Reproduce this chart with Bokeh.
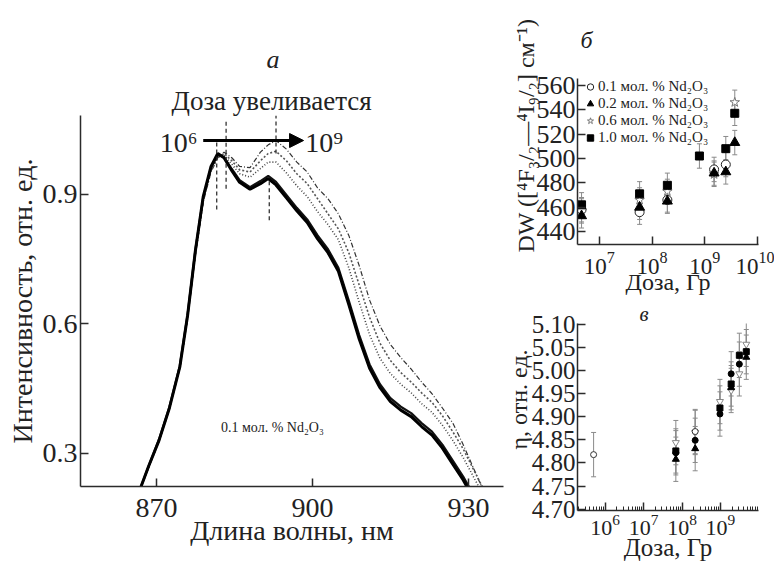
import math
from bokeh.plotting import figure
from bokeh.layouts import row, column
from bokeh.models import (Range1d, FixedTicker, Label, Arrow, NormalHead, Whisker, TeeHead, Title,
                          ColumnDataSource, Legend, LegendItem, PrintfTickFormatter)
from bokeh.embed import file_html
from bokeh.resources import INLINE

FONT = "Liberation Serif"
AX = "#2b2b2b"
TXT = "#222"

# ---------------- panel a: luminescence spectra ----------------
wavelength = [866.8, 868.5, 870.5, 872.5, 874.5, 876.0, 877.5, 879.0, 880.5, 881.8,
              883.0, 884.5, 886.0, 888.0, 890.0, 891.5, 893.0, 895.0, 897.0, 899.0,
              901.0, 903.0, 905.0, 907.0, 909.0, 911.0, 913.0, 915.0, 917.0, 919.0,
              921.0, 923.0, 925.0, 927.0, 929.0, 931.0, 933.0]
spec_1 = [0.215, 0.27, 0.33, 0.405, 0.50, 0.62, 0.77, 0.895, 0.965, 0.995,
          0.985, 0.955, 0.928, 0.912, 0.925, 0.937, 0.922, 0.892, 0.862, 0.835,
          0.797, 0.765, 0.722, 0.645, 0.565, 0.497, 0.452, 0.420, 0.400, 0.385,
          0.362, 0.342, 0.312, 0.275, 0.238, 0.195, 0.160]
spec_2 = [0.215, 0.27, 0.332, 0.407, 0.503, 0.622, 0.772, 0.893, 0.962, 0.992,
          0.986, 0.959, 0.933, 0.917, 0.931, 0.943, 0.929, 0.899, 0.869, 0.842,
          0.805, 0.773, 0.730, 0.654, 0.574, 0.506, 0.460, 0.428, 0.408, 0.393,
          0.370, 0.350, 0.320, 0.283, 0.246, 0.203, 0.168]
spec_3 = [0.215, 0.268, 0.33, 0.405, 0.50, 0.618, 0.765, 0.888, 0.958, 0.990,
          0.990, 0.970, 0.948, 0.940, 0.960, 0.975, 0.975, 0.950, 0.920, 0.895,
          0.860, 0.830, 0.795, 0.730, 0.650, 0.575, 0.520, 0.485, 0.460, 0.440,
          0.415, 0.395, 0.365, 0.330, 0.290, 0.245, 0.200]
spec_4 = [0.215, 0.268, 0.328, 0.403, 0.498, 0.615, 0.762, 0.885, 0.955, 0.985,
          0.995, 0.978, 0.957, 0.952, 0.978, 0.995, 1.000, 0.978, 0.948, 0.925,
          0.890, 0.855, 0.820, 0.765, 0.690, 0.615, 0.555, 0.515, 0.487, 0.465,
          0.440, 0.418, 0.387, 0.350, 0.310, 0.262, 0.215]
spec_5 = [0.215, 0.267, 0.327, 0.402, 0.496, 0.612, 0.758, 0.882, 0.952, 0.985,
          0.998, 0.985, 0.965, 0.962, 0.998, 1.015, 1.025, 1.005, 0.975, 0.952,
          0.915, 0.890, 0.855, 0.805, 0.735, 0.655, 0.595, 0.552, 0.522, 0.495,
          0.465, 0.438, 0.405, 0.370, 0.320, 0.265, 0.210]
peak_marks_wl = [881.6, 883.4, 891.7, 893.0]
peak_marks_top = [1.025, 1.07, 0.94, 1.083]
peak_marks_bottom = [0.865, 0.913, 0.84, 0.995]
wl_ticks = [870, 900, 930]
int_ticks = [0.3, 0.6, 0.9]

# ---------------- panel б: DW vs dose ----------------
dose_b_01 = [4.6e6, 5.8e7, 1.95e8, 1.5e9, 2.5e9]
dw_01 = [458, 456, 466, 491, 495]
dose_b_02 = [4.6e6, 5.8e7, 1.95e8, 1.5e9, 2.5e9, 3.7e9]
dw_02 = [453, 460, 465, 488, 489, 513]
dose_b_06 = [4.6e6, 5.8e7, 1.95e8, 1.5e9, 3.7e9]
dw_06 = [457, 466, 473, 487, 546]
dose_b_10 = [4.6e6, 5.8e7, 1.95e8, 7.9e8, 2.5e9, 3.7e9]
dw_10 = [462, 471, 478, 502, 508, 537]
dw_err = 10
dw_ticks = [440, 460, 480, 500, 520, 540, 560]
dose_b_ticks = [1e7, 1e8, 1e9, 1e10]

# ---------------- panel в: eta vs dose ----------------
dose_c_ocirc = [5.0e5, 2.2e8]
eta_ocirc = [4.818, 4.868]
dose_c_itri = [6.9e7, 2.2e8, 9.7e8, 1.9e9, 3.1e9, 4.7e9]
eta_itri = [4.844, 4.866, 4.933, 4.957, 4.993, 5.057]
dose_c_fcirc = [6.9e7, 2.2e8, 9.7e8, 1.9e9, 3.1e9]
eta_fcirc = [4.822, 4.849, 4.906, 4.993, 5.014]
dose_c_sq = [6.9e7, 9.7e8, 1.9e9, 3.1e9, 4.7e9]
eta_sq = [4.826, 4.919, 4.971, 5.033, 5.041]
dose_c_tri = [6.9e7, 2.2e8, 1.9e9, 4.7e9]
eta_tri = [4.808, 4.831, 4.963, 5.029]
eta_err = 0.048
eta_ticks = [4.70, 4.75, 4.80, 4.85, 4.90, 4.95, 5.00, 5.05, 5.10]
dose_c_ticks = [1e6, 1e7, 1e8, 1e9]
dose_c_minor = [k * 10 ** e for e in range(5, 10) for k in range(2, 10)]

legend_labels = ["0.1 мол. % Nd₂O₃", "0.2 мол. % Nd₂O₃", "0.6 мол. % Nd₂O₃", "1.0 мол. % Nd₂O₃"]


def base_fig(width, height, borders, tick_size, **kw):
    l, r, t, b = borders
    p = figure(width=width, height=height, output_backend="svg", toolbar_location=None,
               min_border_left=l, min_border_right=r, min_border_top=t, min_border_bottom=b, **kw)
    p.outline_line_color = None
    p.grid.visible = False
    for ax in p.axis:
        ax.axis_line_color = AX
        ax.axis_line_width = 1.5
        ax.major_tick_line_color = AX
        ax.major_tick_line_width = 1.5
        ax.major_tick_in = 8
        ax.major_tick_out = 0
        ax.minor_tick_line_color = None
        ax.major_label_text_font = FONT
        ax.major_label_text_font_size = tick_size
        ax.major_label_text_color = TXT
        ax.axis_label_text_font = FONT
        ax.axis_label_text_font_style = "normal"
        ax.axis_label_text_color = TXT
    return p


def label(p, x, y, text, size, align="center"):
    p.add_layout(Label(x=x, y=y, text=text, text_font=FONT, text_font_size=size,
                       text_align=align, text_baseline="middle", text_color=TXT))


def title(p, side, text, size, align, offset, standoff, valign="bottom", style="normal"):
    p.add_layout(Title(text=text, text_font=FONT, text_font_size=size, text_font_style=style,
                       text_color=TXT, align=align, offset=offset, standoff=standoff,
                       vertical_align=valign), side)


# ======== panel a ========
pa = base_fig(504, 565, (80, 1, 115, 79), "28px",
              x_range=Range1d(855.4, 936.75), y_range=Range1d(0.223, 1.083))
pa.xaxis.ticker = FixedTicker(ticks=wl_ticks)
pa.yaxis.ticker = FixedTicker(ticks=int_ticks)
pa.xaxis.axis_label = "Длина волны, нм"
pa.yaxis.axis_label = "Интенсивность, отн. ед."
pa.xaxis.axis_label_text_font_size = "28px"
pa.yaxis.axis_label_text_font_size = "28px"
pa.xaxis.major_label_standoff = 12
pa.yaxis.major_label_standoff = 3
pa.xaxis.axis_label_standoff = -5
pa.yaxis.axis_label_standoff = 2

pa.line(wavelength, spec_5, line_color="#333", line_width=1.2, line_dash="5 2 1 2")
pa.line(wavelength, spec_4, line_color="#555", line_width=1.6, line_dash="2 2")
pa.line(wavelength, spec_3, line_color="#444", line_width=1.6, line_dash="1 2")
pa.line(wavelength, spec_2, line_color="#111", line_width=2.2)
pa.line(wavelength, spec_1, line_color="#000", line_width=3.0)
pa.segment(x0=peak_marks_wl, y0=peak_marks_bottom, x1=peak_marks_wl, y1=peak_marks_top,
           line_color="#222", line_width=1.2, line_dash="4 3")
pa.add_layout(Arrow(end=NormalHead(size=14, fill_color="black", line_color="black"),
                    x_start=879.0, y_start=1.025, x_end=898.3, y_end=1.025,
                    line_width=3, line_color="black"))
label(pa, 877.9, 1.02, "10⁶", "28px", align="right")
label(pa, 898.6, 1.02, "10⁹", "28px", align="left")
label(pa, 892.3, 0.36, "0.1 мол. % Nd₂O₃", "14px")
title(pa, "above", "Доза увеливается", "27px", "left", 91, 0)
title(pa, "above", "а", "26px", "left", 186, 20, style="italic")

# ======== panel б ========
pb = base_fig(270, 297, (65, 16, 78, 51), "26px", x_axis_type="log",
              x_range=Range1d(10 ** 6.586, 10 ** 10.018), y_range=Range1d(429.5, 565.5))
pb.xaxis.ticker = FixedTicker(ticks=dose_b_ticks, minor_ticks=[])
pb.yaxis.ticker = FixedTicker(ticks=dw_ticks)
pb.xaxis.major_label_text_font_size = "23px"
pb.xaxis.major_label_standoff = 7
pb.yaxis.major_label_standoff = 2
pb.xaxis.axis_label = "Доза, Гр"
pb.xaxis.axis_label_text_font_size = "24px"
pb.xaxis.axis_label_standoff = -8

all_x = dose_b_01 + dose_b_02 + dose_b_06 + dose_b_10
all_y = dw_01 + dw_02 + dw_06 + dw_10
src_b = ColumnDataSource(dict(x=all_x, upper=[v + dw_err for v in all_y], lower=[v - dw_err for v in all_y]))
pb.add_layout(Whisker(source=src_b, base="x", upper="upper", lower="lower", dimension="height",
                      line_color="#8a8a8a", line_width=1,
                      upper_head=TeeHead(size=5, line_color="#8a8a8a", line_width=1),
                      lower_head=TeeHead(size=5, line_color="#8a8a8a", line_width=1)))
r06 = pb.scatter(dose_b_06, dw_06, marker="star", size=10, line_color="#777", fill_color="white", line_width=1)
r01 = pb.scatter(dose_b_01, dw_01, marker="circle", size=9, line_color="#222", fill_color="white", line_width=1)
r02 = pb.scatter(dose_b_02, dw_02, marker="triangle", size=10, line_color="black", fill_color="black")
r10 = pb.scatter(dose_b_10, dw_10, marker="square", size=8, line_color="black", fill_color="black")
leg = Legend(items=[LegendItem(label=legend_labels[0], renderers=[r01]),
                    LegendItem(label=legend_labels[1], renderers=[r02]),
                    LegendItem(label=legend_labels[2], renderers=[r06]),
                    LegendItem(label=legend_labels[3], renderers=[r10])],
             location=(5, 98), label_text_font=FONT, label_text_font_size="15px",
             label_text_color=TXT, glyph_width=16, glyph_height=17, label_height=17,
             spacing=0, padding=0, margin=0, label_standoff=0,
             border_line_color=None, background_fill_alpha=0)
pb.add_layout(leg)
title(pb, "left", "DW ([⁴F₃/₂—⁴I₉/₂] см⁻¹)", "24px", "left", -8, -10)
title(pb, "above", "б", "24px", "left", 3, 47, valign="top", style="italic")

# ======== panel в ========
pc = base_fig(270, 268, (73, 12, 26, 55), "25px", x_axis_type="log",
              x_range=Range1d(10 ** 5.28, 10 ** 9.99), y_range=Range1d(4.697, 5.102))
pc.xaxis.ticker = FixedTicker(ticks=dose_c_ticks, minor_ticks=dose_c_minor)
pc.yaxis.ticker = FixedTicker(ticks=eta_ticks)
pc.yaxis.formatter = PrintfTickFormatter(format="%.2f")
pc.xaxis.minor_tick_line_color = AX
pc.xaxis.minor_tick_in = 4
pc.xaxis.minor_tick_out = 0
pc.xaxis.major_label_text_font_size = "22px"
pc.xaxis.major_label_standoff = 4
pc.yaxis.major_label_standoff = 2
pc.xaxis.axis_label = "Доза, Гр"
pc.xaxis.axis_label_text_font_size = "25px"
pc.xaxis.axis_label_standoff = -4

cx = dose_c_ocirc + dose_c_itri + dose_c_fcirc + dose_c_sq + dose_c_tri
cy = eta_ocirc + eta_itri + eta_fcirc + eta_sq + eta_tri
src_c = ColumnDataSource(dict(x=cx, upper=[v + eta_err for v in cy], lower=[v - eta_err for v in cy]))
pc.add_layout(Whisker(source=src_c, base="x", upper="upper", lower="lower", dimension="height",
                      line_color="#8a8a8a", line_width=1,
                      upper_head=TeeHead(size=5, line_color="#8a8a8a", line_width=1),
                      lower_head=TeeHead(size=5, line_color="#8a8a8a", line_width=1)))
pc.scatter(dose_c_itri, eta_itri, marker="inverted_triangle", size=7, line_color="#888", fill_color="white")
pc.scatter(dose_c_ocirc, eta_ocirc, marker="circle", size=6, line_color="#333", fill_color="white")
pc.scatter(dose_c_fcirc, eta_fcirc, marker="circle", size=6, line_color="black", fill_color="black")
pc.scatter(dose_c_sq, eta_sq, marker="square", size=6, line_color="black", fill_color="black")
pc.scatter(dose_c_tri, eta_tri, marker="triangle", size=7, line_color="black", fill_color="black")
title(pc, "left", "η, отн. ед.", "24px", "left", 61, -7)
title(pc, "above", "в", "21px", "left", 62, -4, style="italic")

layout = row(pa, column(pb, pc, spacing=0), spacing=0)
open("out.html", "w").write(file_html(layout, INLINE))
